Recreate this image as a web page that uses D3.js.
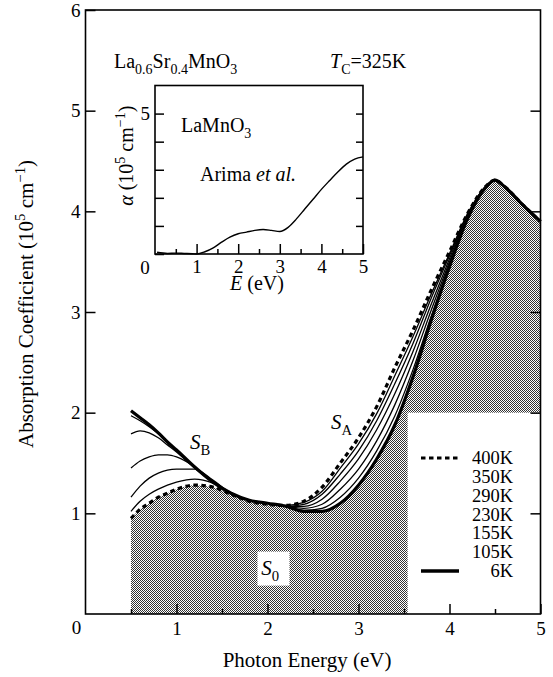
<!DOCTYPE html>
<html>
<head>
<meta charset="utf-8">
<script src="https://cdn.jsdelivr.net/npm/d3@7"></script>
<style>
  body { margin: 0; background: #fff; }
  svg text { font-family: "Liberation Serif", "Times New Roman", "DejaVu Serif", serif; fill: #000; }
</style>
</head>
<body>
<div id="chart"></div>
<script>
// photon energy (eV) shared by all temperature curves
const energies = [0.5, 0.6, 0.7, 0.8, 0.9, 1.0, 1.2, 1.4, 1.6, 1.8, 2.0, 2.2, 2.4, 2.6, 2.8, 3.0, 3.2, 3.4, 3.6, 3.8, 4.0, 4.2, 4.4, 4.5, 4.6, 4.8, 5.0];

// absorption coefficient (10^5 cm^-1)
const k400 = [0.95, 1.04, 1.10, 1.16, 1.20, 1.24, 1.28, 1.26, 1.19, 1.12, 1.09, 1.08, 1.12, 1.26, 1.50, 1.75, 2.06, 2.45, 2.82, 3.22, 3.60, 3.98, 4.25, 4.31, 4.25, 4.07, 3.90];
const k350 = [1.02, 1.12, 1.19, 1.24, 1.28, 1.31, 1.34, 1.30, 1.20, 1.13, 1.10, 1.08, 1.11, 1.22, 1.45, 1.69, 1.99, 2.37, 2.76, 3.18, 3.58, 3.98, 4.25, 4.31, 4.25, 4.07, 3.90];
const k290 = [1.16, 1.27, 1.35, 1.40, 1.43, 1.44, 1.44, 1.33, 1.20, 1.13, 1.10, 1.07, 1.09, 1.19, 1.39, 1.62, 1.92, 2.29, 2.69, 3.14, 3.56, 3.97, 4.25, 4.31, 4.25, 4.07, 3.90];
const k230 = [1.45, 1.52, 1.56, 1.58, 1.58, 1.56, 1.46, 1.31, 1.20, 1.13, 1.10, 1.07, 1.07, 1.14, 1.32, 1.54, 1.83, 2.19, 2.61, 3.08, 3.53, 3.96, 4.24, 4.31, 4.25, 4.07, 3.90];
const k155 = [1.79, 1.82, 1.80, 1.75, 1.68, 1.61, 1.45, 1.31, 1.20, 1.13, 1.10, 1.07, 1.05, 1.09, 1.24, 1.44, 1.72, 2.08, 2.52, 3.02, 3.50, 3.95, 4.24, 4.31, 4.25, 4.07, 3.90];
const k105 = [1.97, 1.92, 1.86, 1.79, 1.70, 1.62, 1.45, 1.31, 1.20, 1.13, 1.10, 1.07, 1.03, 1.05, 1.16, 1.35, 1.62, 1.97, 2.43, 2.96, 3.47, 3.94, 4.24, 4.31, 4.25, 4.07, 3.90];
const k6   = [2.02, 1.95, 1.88, 1.80, 1.71, 1.63, 1.46, 1.31, 1.20, 1.13, 1.10, 1.07, 1.02, 1.02, 1.10, 1.28, 1.54, 1.88, 2.36, 2.92, 3.45, 3.93, 4.24, 4.31, 4.25, 4.07, 3.90];

const temps = ["400K", "350K", "290K", "230K", "155K", "105K", "6K"];
const seriesValues = [k400, k350, k290, k230, k155, k105, k6];

// inset: LaMnO3 (Arima et al.)
const insetEnergy = [0.05, 0.3, 0.5, 0.7, 0.9, 1.0, 1.2, 1.4, 1.6, 1.8, 2.0, 2.2, 2.4, 2.6, 2.8, 3.0, 3.2, 3.4, 3.6, 3.8, 4.0, 4.2, 4.4, 4.6, 4.8, 5.0];
const insetAlpha  = [0.06, 0.02, 0.03, 0.02, 0.01, 0.0, 0.08, 0.22, 0.42, 0.60, 0.72, 0.78, 0.84, 0.87, 0.84, 0.80, 0.95, 1.25, 1.60, 1.95, 2.30, 2.62, 2.93, 3.20, 3.38, 3.46];

const xTicks = [1, 2, 3, 4, 5];
const xMinor = [0.5, 1.5, 2.5, 3.5, 4.5];
const yTicks = [1, 2, 3, 4, 5, 6];
const insetYTicks = [0, 1, 2, 3, 4, 5];

const width = 553, height = 677;

const svg = d3.select("#chart")
  .append("svg")
  .attr("width", width)
  .attr("height", height)
  .attr("viewBox", [0, 0, width, height]);

const x = d3.scaleLinear().domain([0, 5]).range([85.5, 540.5]);
const y = d3.scaleLinear().domain([0, 6]).range([614, 10]);

// halftone fill
const pat = svg.append("defs").append("pattern")
  .attr("id", "halftone")
  .attr("width", 2).attr("height", 2)
  .attr("patternUnits", "userSpaceOnUse");
pat.append("rect").attr("width", 2).attr("height", 2).attr("fill", "#fff");
pat.append("rect").attr("width", 1).attr("height", 1).attr("fill", "#333");
pat.append("rect").attr("x", 1).attr("y", 1).attr("width", 1).attr("height", 1).attr("fill", "#333");

// rich text helper: parts = [[text, kind]] kind in "", "it", "sub", "sup"
function rich(parent, parts, size) {
  const t = parent.append("text").attr("font-size", size);
  let shift = 0;
  parts.forEach(([s, kind]) => {
    const target = kind === "sub" ? size * 0.28 : kind === "sup" ? -size * 0.4 : 0;
    const ts = t.append("tspan").text(s).attr("dy", target - shift);
    shift = target;
    if (kind === "sub" || kind === "sup") ts.attr("font-size", size * 0.7);
    if (kind === "it") ts.attr("font-style", "italic");
  });
  return t;
}

// shaded region under the lowest curve
const lowest = energies.map((e, i) => d3.min(seriesValues, s => s[i]));
const area = d3.area()
  .x((d, i) => x(energies[i]))
  .y0(y(0))
  .y1(d => y(d))
  .curve(d3.curveMonotoneX);
svg.append("path")
  .datum(lowest)
  .attr("fill", "url(#halftone)")
  .attr("d", area);

// legend box knocks out the shading
svg.append("rect")
  .attr("x", x(3.54)).attr("y", y(2.0))
  .attr("width", x(5) - x(3.54)).attr("height", y(0) - y(2.0))
  .attr("fill", "#fff");

// S0 label box
svg.append("rect")
  .attr("x", x(1.89)).attr("y", y(0.62))
  .attr("width", 32).attr("height", 34)
  .attr("fill", "#fff");
rich(svg, [["S", "it"], ["0", "sub"]], 21).attr("x", x(1.93)).attr("y", y(0.39));

// curves
const line = d3.line()
  .x((d, i) => x(energies[i]))
  .y(d => y(d))
  .curve(d3.curveMonotoneX);

svg.append("g")
  .attr("fill", "none")
  .attr("stroke", "#000")
  .selectAll("path")
  .data(seriesValues)
  .join("path")
  .attr("stroke-width", (d, i) => temps[i] === "400K" || temps[i] === "6K" ? 3.2 : 1.3)
  .attr("stroke-dasharray", (d, i) => temps[i] === "400K" ? "4.5,3.5" : null)
  .attr("d", line);

// frame
svg.append("rect")
  .attr("x", x(0)).attr("y", y(6))
  .attr("width", x(5) - x(0)).attr("height", y(0) - y(6))
  .attr("fill", "none").attr("stroke", "#000").attr("stroke-width", 1.6);

function styleAxis(g, size) {
  g.attr("font-family", null);
  g.select(".domain").remove();
  g.selectAll(".tick line").attr("stroke", "#000").attr("stroke-width", 1.5);
  g.selectAll("text").attr("font-size", size).attr("fill", "#000");
}

svg.append("g")
  .attr("transform", `translate(0,${y(0)})`)
  .call(d3.axisBottom(x).tickValues(xTicks).tickSize(-10).tickPadding(8).tickFormat(d3.format("d")))
  .call(g => styleAxis(g, 19));
svg.append("g")
  .attr("transform", `translate(0,${y(0)})`)
  .call(d3.axisBottom(x).tickValues(xMinor).tickSize(-5).tickFormat(""))
  .call(g => styleAxis(g, 19));
svg.append("g")
  .attr("transform", `translate(${x(0)},0)`)
  .call(d3.axisLeft(y).tickValues(yTicks).tickSize(-10).tickPadding(5).tickFormat(d3.format("d")))
  .call(g => styleAxis(g, 19));
svg.append("g")
  .attr("transform", `translate(${x(5)},0)`)
  .call(d3.axisRight(y).tickValues(yTicks.slice(0, 5)).tickSize(-10).tickFormat(""))
  .call(g => styleAxis(g, 19));
svg.append("text")
  .attr("x", x(0) - 9).attr("y", y(0) + 20)
  .attr("text-anchor", "middle").attr("font-size", 19)
  .text("0");

// axis titles
svg.append("text")
  .attr("x", x(2.5) - 6).attr("y", 667)
  .attr("text-anchor", "middle").attr("font-size", 21)
  .text("Photon Energy (eV)");
rich(svg, [["Absorption Coefficient (10", ""], ["5", "sup"], [" cm", ""], ["\u22121", "sup"], [")", ""]], 21)
  .attr("text-anchor", "middle")
  .attr("transform", `translate(33,${y(3) - 8}) rotate(-90)`);

// annotations
rich(svg, [["La", ""], ["0.6", "sub"], ["Sr", ""], ["0.4", "sub"], ["MnO", ""], ["3", "sub"]], 20)
  .attr("x", 114).attr("y", 68);
rich(svg, [["T", "it"], ["C", "sub"], ["=325K", ""]], 20)
  .attr("x", 330).attr("y", 68);
rich(svg, [["S", "it"], ["B", "sub"]], 21).attr("x", 190).attr("y", 449);
rich(svg, [["S", "it"], ["A", "sub"]], 21).attr("x", 331).attr("y", 429);

// legend
const ly = d3.scalePoint().domain(temps).range([458, 571]);
const legend = svg.append("g");
legend.selectAll("text")
  .data(temps)
  .join("text")
  .attr("x", 513)
  .attr("y", d => ly(d) + 6)
  .attr("text-anchor", "end")
  .attr("font-size", 18.5)
  .text(d => d);
legend.append("line")
  .attr("x1", 421).attr("x2", 459)
  .attr("y1", ly("400K")).attr("y2", ly("400K"))
  .attr("stroke", "#000").attr("stroke-width", 3.2).attr("stroke-dasharray", "4.5,3.5");
legend.append("line")
  .attr("x1", 421).attr("x2", 459)
  .attr("y1", ly("6K")).attr("y2", ly("6K"))
  .attr("stroke", "#000").attr("stroke-width", 3.6);

// inset
const xi = d3.scaleLinear().domain([0, 5]).range([155, 363]);
const yi = d3.scaleLinear().domain([0, 6]).range([254, 85.5]);
const inset = svg.append("g");
inset.append("rect")
  .attr("x", xi(0)).attr("y", yi(6))
  .attr("width", xi(5) - xi(0)).attr("height", yi(0) - yi(6))
  .attr("fill", "#fff").attr("stroke", "#000").attr("stroke-width", 1.6);
inset.append("path")
  .datum(insetAlpha)
  .attr("fill", "none").attr("stroke", "#000").attr("stroke-width", 1.4)
  .attr("d", d3.line().x((d, i) => xi(insetEnergy[i])).y(d => yi(d)).curve(d3.curveMonotoneX));
inset.append("g")
  .attr("transform", `translate(0,${yi(0)})`)
  .call(d3.axisBottom(xi).tickValues(xTicks).tickSize(-10).tickPadding(6).tickFormat(d3.format("d")))
  .call(g => styleAxis(g, 19));
inset.append("g")
  .attr("transform", `translate(0,${yi(0)})`)
  .call(d3.axisBottom(xi).tickValues(xMinor).tickSize(-5).tickFormat(""))
  .call(g => styleAxis(g, 19));
inset.append("g")
  .attr("transform", `translate(${xi(0)},0)`)
  .call(d3.axisLeft(yi).tickValues(insetYTicks).tickSize(-9).tickPadding(5).tickFormat(d => d === 5 ? "5" : ""))
  .call(g => styleAxis(g, 19));
inset.append("g")
  .attr("transform", `translate(${xi(5)},0)`)
  .call(d3.axisRight(yi).tickValues(insetYTicks.slice(1)).tickSize(-7).tickFormat(""))
  .call(g => styleAxis(g, 19));
inset.append("text")
  .attr("x", xi(0) - 10).attr("y", yi(0) + 20)
  .attr("text-anchor", "middle").attr("font-size", 19)
  .text("0");
rich(inset, [["LaMnO", ""], ["3", "sub"]], 20).attr("x", 181).attr("y", 132);
rich(inset, [["Arima ", ""], ["et al.", "it"]], 20).attr("x", 200).attr("y", 181);
rich(inset, [["E", "it"], [" (eV)", ""]], 20)
  .attr("x", 257).attr("y", 290).attr("text-anchor", "middle");
rich(inset, [["\u03b1", "it"], [" (10", ""], ["5", "sup"], [" cm", ""], ["\u22121", "sup"], [")", ""]], 20)
  .attr("text-anchor", "middle")
  .attr("transform", `translate(133,${yi(3.5)}) rotate(-90)`);
</script>
</body>
</html>
